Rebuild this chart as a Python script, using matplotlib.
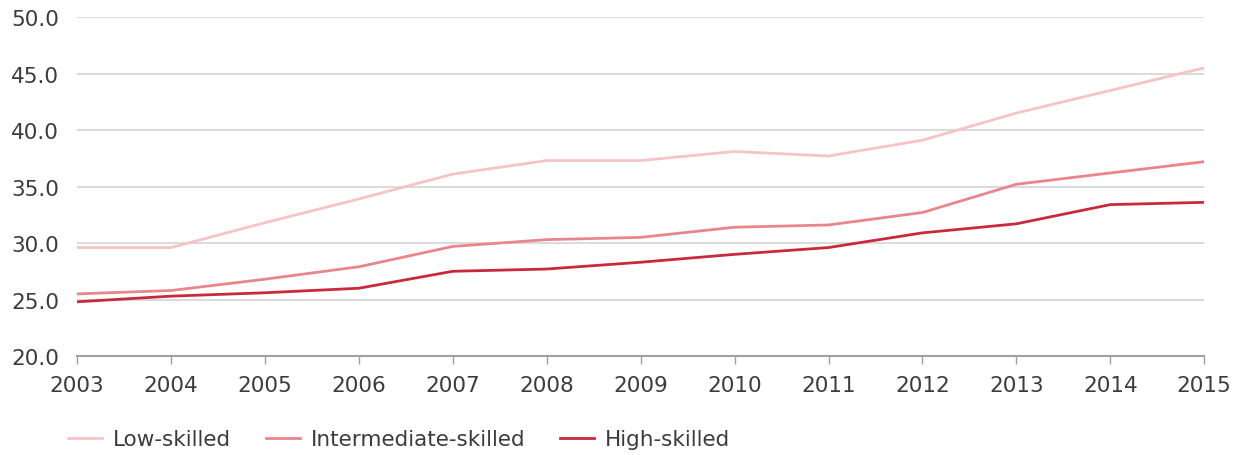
import matplotlib
matplotlib.use("Agg")
import matplotlib.pyplot as plt

years = [2003, 2004, 2005, 2006, 2007, 2008, 2009, 2010, 2011, 2012, 2013, 2014, 2015]
low_skilled = [29.6, 29.6, 31.8, 33.9, 36.1, 37.3, 37.3, 38.1, 37.7, 39.1, 41.5, 43.5, 45.5]
intermediate_skilled = [25.5, 25.8, 26.8, 27.9, 29.7, 30.3, 30.5, 31.4, 31.6, 32.7, 35.2, 36.2, 37.2]
high_skilled = [24.8, 25.3, 25.6, 26.0, 27.5, 27.7, 28.3, 29.0, 29.6, 30.9, 31.7, 33.4, 33.6]
yticks = [20.0, 25.0, 30.0, 35.0, 40.0, 45.0, 50.0]

plt.rcParams['font.family'] = ['DejaVu Sans']
text_color = '#3c3c3c'
fs = 15.5

fig = plt.figure(figsize=(12.44, 4.56), dpi=100)
ax = fig.add_axes([0.062, 0.217, 0.906, 0.7435])

ax.plot(years, low_skilled, color='#f7c3c6', lw=2.0, label='Low-skilled')
ax.plot(years, intermediate_skilled, color='#e8868b', lw=2.0, label='Intermediate-skilled')
ax.plot(years, high_skilled, color='#c82a3b', lw=2.0, label='High-skilled')

ax.set_xlim(2003, 2015)
ax.set_ylim(20, 50)
ax.set_yticks(yticks)
ax.set_yticklabels([f"{v:.1f}" for v in yticks])
ax.set_xticks(years)
ax.set_xticklabels([str(y) for y in years])

ax.grid(axis='y', color='#d4d4d4', lw=1.2)
ax.set_axisbelow(True)
for s in ['left', 'right', 'top']:
    ax.spines[s].set_visible(False)
ax.spines['bottom'].set_color('#a0a0a0')
ax.spines['bottom'].set_linewidth(1.5)

ax.tick_params(axis='y', length=0, pad=13, labelsize=fs, labelcolor=text_color)
ax.tick_params(axis='x', length=6, width=1, color='#a0a0a0', pad=8, labelsize=fs, labelcolor=text_color)

leg = fig.legend(loc='center left', bbox_to_anchor=(0.048, 0.035), ncol=3, frameon=False,
                 fontsize=fs, handlelength=1.58, columnspacing=1.6, handletextpad=0.51,
                 borderaxespad=0.0)
for t in leg.get_texts():
    t.set_color(text_color)

fig.savefig('out.png', dpi=100)
